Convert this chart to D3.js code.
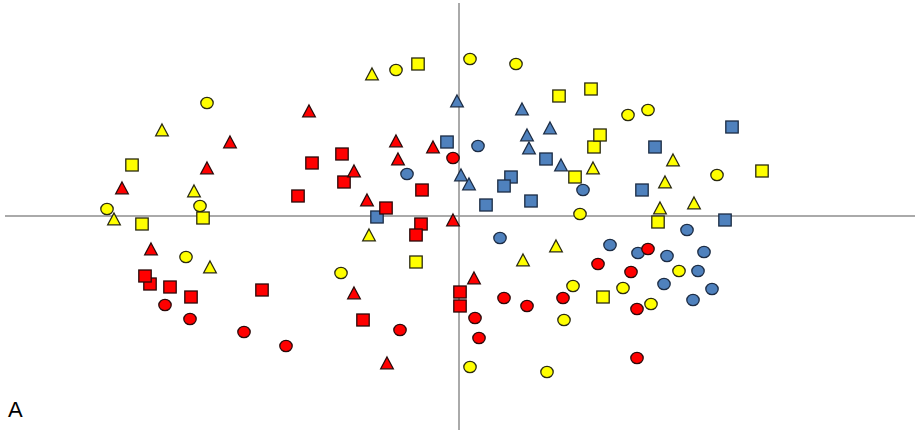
<!DOCTYPE html>
<html>
<head>
<meta charset="utf-8">
<script src="https://cdn.jsdelivr.net/npm/d3@7"></script>
<style>
  html, body { margin: 0; padding: 0; background: #fff; }
  svg { display: block; }
</style>
</head>
<body>
<svg id="chart" width="915" height="433"></svg>
<script>
// Ordination scores per group: [axis 1, axis 2]
const blueCircles = [[0.19,0.70],[-0.52,0.42],[1.24,0.26],[0.41,-0.22],[2.28,-0.14],[1.51,-0.29],[1.79,-0.37],[2.08,-0.40],[2.45,-0.36],[2.39,-0.55],[2.05,-0.68],[2.53,-0.73],[2.34,-0.84]];
const blueSquares = [[-0.12,0.74],[0.87,0.57],[0.52,0.39],[0.45,0.30],[0.27,0.11],[0.72,0.15],[-0.82,-0.01],[1.96,0.69],[2.73,0.89],[1.83,0.26],[2.66,-0.04]];
const blueTriangles = [[-0.02,1.15],[0.63,1.07],[0.91,0.88],[0.68,0.81],[0.70,0.68],[1.02,0.51],[0.02,0.41],[0.10,0.32]];

const redCircles = [[-0.06,0.58],[-2.94,-0.89],[-2.69,-1.03],[-2.15,-1.16],[-1.73,-1.30],[-0.59,-1.14],[0.45,-0.82],[0.68,-0.90],[0.16,-1.02],[0.20,-1.22],[1.89,-0.33],[1.39,-0.48],[1.72,-0.56],[1.04,-0.82],[1.78,-0.93],[1.78,-1.42]];
const redSquares = [[-1.47,0.53],[-1.61,0.20],[-1.17,0.62],[-1.15,0.34],[-0.37,0.26],[-0.73,0.08],[-0.38,-0.08],[-0.43,-0.19],[-3.09,-0.68],[-3.14,-0.60],[-2.89,-0.71],[-2.68,-0.81],[-1.97,-0.74],[0.01,-0.76],[0.01,-0.90],[-0.96,-1.04]];
const redTriangles = [[-1.50,1.05],[-2.29,0.74],[-2.52,0.48],[-3.37,0.28],[-0.63,0.75],[-0.26,0.69],[-0.61,0.57],[-1.05,0.45],[-0.92,0.16],[-0.06,-0.04],[-3.08,-0.33],[0.15,-0.62],[-1.05,-0.77],[-0.72,-1.47]];

const yellowCircles = [[-2.52,1.13],[-3.52,0.07],[-2.59,0.10],[-0.63,1.46],[0.11,1.57],[0.57,1.52],[1.69,1.01],[1.89,1.06],[2.58,0.41],[1.21,0.02],[-2.73,-0.41],[-1.18,-0.57],[0.11,-1.51],[0.88,-1.56],[2.20,-0.55],[1.14,-0.70],[1.64,-0.72],[1.92,-0.88],[1.05,-1.04]];
const yellowSquares = [[-3.27,0.51],[-3.17,-0.08],[-2.56,-0.02],[-0.41,1.52],[1.00,1.20],[1.35,0.69],[1.41,0.81],[1.32,1.27],[1.16,0.39],[3.03,0.45],[1.99,-0.06],[-0.43,-0.46],[1.44,-0.81]];
const yellowTriangles = [[-2.97,0.86],[-2.65,0.25],[-3.45,-0.03],[-0.87,1.42],[2.14,0.56],[1.34,0.48],[2.06,0.34],[2.01,0.08],[2.35,0.13],[-2.49,-0.51],[-0.90,-0.19],[0.97,-0.30],[0.64,-0.44]];

const panelLabel = "A";

const svg = d3.select("#chart");
const x = d3.scaleLinear().domain([-4.54, 4.56]).range([5, 915]);
const y = d3.scaleLinear().domain([-2.14, 2.13]).range([430, 3]);

// Axes crossing at the origin
const axisG = svg.append("g").attr("stroke", "#8e8e8e").attr("stroke-width", 1.5);
axisG.append("line")
  .attr("x1", x.range()[0]).attr("x2", x.range()[1])
  .attr("y1", y(0)).attr("y2", y(0));
axisG.append("line")
  .attr("x1", x(0)).attr("x2", x(0))
  .attr("y1", y.range()[1]).attr("y2", y.range()[0]);

const BLUE = "#4f81bd", RED = "#ff0000", YELLOW = "#ffff00";

function circles(data, fill, stroke) {
  svg.append("g").selectAll("ellipse").data(data).join("ellipse")
    .attr("cx", d => x(d[0])).attr("cy", d => y(d[1]))
    .attr("rx", 6.2).attr("ry", 5.7)
    .attr("fill", fill).attr("stroke", stroke).attr("stroke-width", 1.3);
}
function squares(data, fill, stroke) {
  svg.append("g").selectAll("rect").data(data).join("rect")
    .attr("x", d => x(d[0]) - 6.2).attr("y", d => y(d[1]) - 6)
    .attr("width", 12.4).attr("height", 12)
    .attr("fill", fill).attr("stroke", stroke).attr("stroke-width", 1.3);
}
function triangles(data, fill, stroke) {
  svg.append("g").selectAll("path").data(data).join("path")
    .attr("d", d => {
      const cx = x(d[0]), cy = y(d[1]);
      return `M${cx},${cy - 6}L${cx + 6.3},${cy + 5.8}L${cx - 6.3},${cy + 5.8}Z`;
    })
    .attr("fill", fill).attr("stroke", stroke).attr("stroke-width", 1.3)
    .attr("stroke-linejoin", "miter");
}

circles(blueCircles, BLUE, "#1c2c44");
squares(blueSquares, BLUE, "#1c2c44");
triangles(blueTriangles, BLUE, "#1c2c44");
circles(redCircles, RED, "#2a0a0a");
squares(redSquares, RED, "#2a0a0a");
triangles(redTriangles, RED, "#2a0a0a");
circles(yellowCircles, YELLOW, "#2a2a10");
squares(yellowSquares, YELLOW, "#2a2a10");
triangles(yellowTriangles, YELLOW, "#2a2a10");

svg.append("text")
  .attr("x", 8).attr("y", 417)
  .attr("font-family", "Liberation Sans, Arial, sans-serif")
  .attr("font-size", 22)
  .attr("fill", "#000")
  .text(panelLabel);
</script>
</body>
</html>
